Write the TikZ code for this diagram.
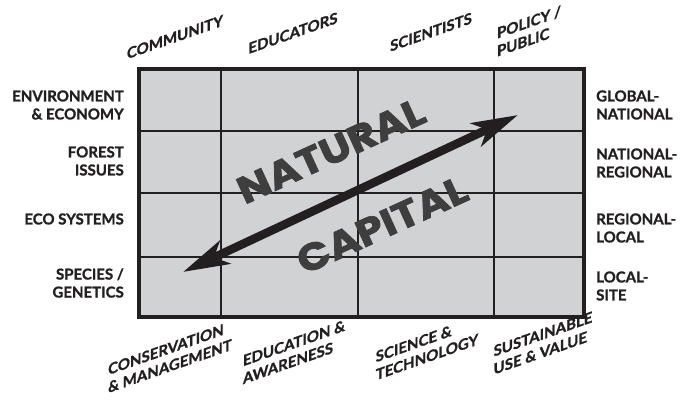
\documentclass[tikz,border=0pt]{standalone}
\usepackage{fontspec}
\setmainfont{Lato}[BoldFeatures={FakeBold=1.2}]
\newfontfamily\grande{Poppins}[UprightFont={* Bold}, FakeBold=1.8]
\usetikzlibrary{arrows.meta}

\definecolor{celda}{HTML}{D1D2D4}
\definecolor{tinta}{HTML}{231F20}
\definecolor{sombra}{HTML}{3E3E3E}

\begin{document}
\begin{tikzpicture}[x=1pt, y=-1pt,
    etiqueta/.style={font=\fontsize{15}{18}\selectfont\bfseries, text=tinta, inner sep=0pt},
    inclinada/.style={etiqueta, yslant=0.35, align=left},
    titulo/.style={font=\grande\fontsize{38}{38}\selectfont, text=sombra,
      rotate=24.5, xscale=1.14, inner sep=0pt}]
    \useasboundingbox (0,0) rectangle (686,403);

    % Cuadrícula
    \fill[celda] (139,69) rectangle (584,317);
    \foreach \x in {221,358,494}
      \draw[line width=1.5pt, tinta] (\x,69) -- (\x,317);
    \foreach \y in {131,193,257}
      \draw[line width=1.5pt, tinta] (139,\y) -- (584,\y);
    \draw[line width=3.5pt, tinta] (139,69) rectangle (584,317);

    % Actores (arriba)
    \node[inclinada] (community) at (175,37) {COMMUNITY};
    \node[inclinada] (educators) at (293,33) {EDUCATORS};
    \node[inclinada] (scientists) at (431,32) {SCIENTISTS};
    \node[inclinada] (policy) at (529,31) {POLICY /\\PUBLIC};

    % Acciones (abajo)
    \node[inclinada] (conservation) at (170,357) {CONSERVATION\\\& MANAGEMENT};
    \node[inclinada] (education) at (294,352) {EDUCATION \&\\AWARENESS};
    \node[inclinada] (science) at (427,348) {SCIENCE \&\\TECHNOLOGY};
    \node[inclinada] (sustainable) at (543,343) {SUSTAINABLE\\USE \& VALUE};

    % Temas (izquierda)
    \node[etiqueta, anchor=east, align=right] (environment) at (124,105) {ENVIRONMENT\\\& ECONOMY};
    \node[etiqueta, anchor=east, align=right] (forest) at (124,161) {FOREST\\ISSUES};
    \node[etiqueta, anchor=east, align=right] (ecosystems) at (124,219) {ECO SYSTEMS};
    \node[etiqueta, anchor=east, align=right] (species) at (124,283) {SPECIES /\\GENETICS};

    % Escalas (derecha)
    \node[etiqueta, anchor=west, align=left] (global) at (596,105) {GLOBAL-\\NATIONAL};
    \node[etiqueta, anchor=west, align=left] (national) at (596,163) {NATIONAL-\\REGIONAL};
    \node[etiqueta, anchor=west, align=left] (regional) at (596,228) {REGIONAL-\\LOCAL};
    \node[etiqueta, anchor=west, align=left] (local) at (596,286) {LOCAL-\\SITE};

    % Flecha doble
    \coordinate (bajo) at (183,272);
    \coordinate (alto) at (518,115);
    \draw[line width=8.5pt, tinta,
      {Stealth[length=46pt, width=25pt, inset=12pt]}-{Stealth[length=46pt, width=25pt, inset=12pt]}]
      (bajo) -- (alto);

    % Texto central
    \node[titulo] (natural) at (331,151) {NATURAL};
    \node[titulo] (capital) at (382,225) {CAPITAL};
  \end{tikzpicture}
\end{document}
